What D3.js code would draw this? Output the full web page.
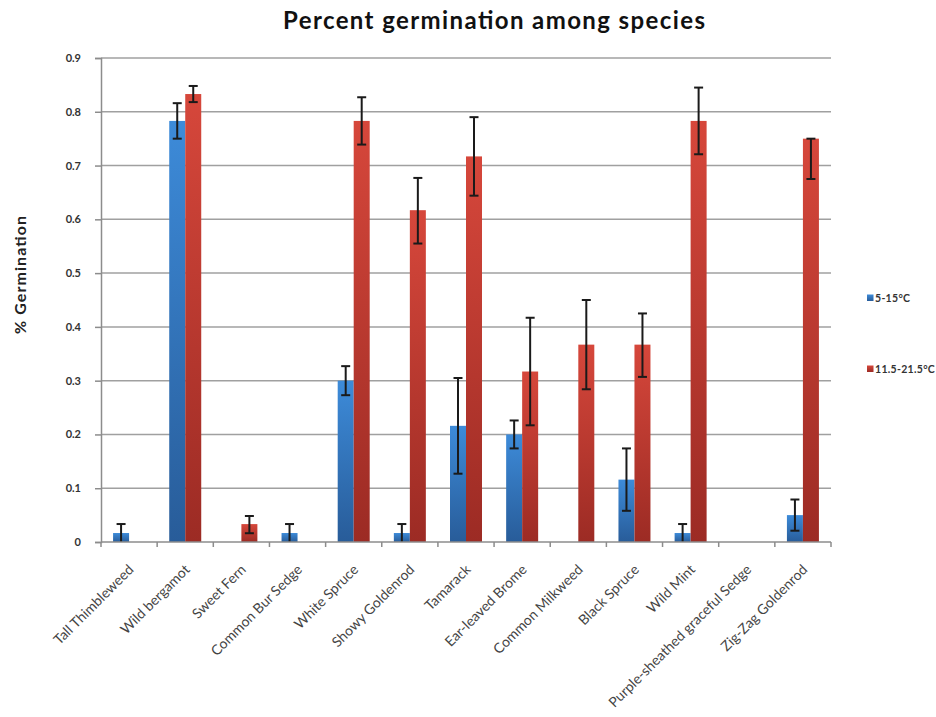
<!DOCTYPE html>
<html>
<head>
<meta charset="utf-8">
<script src="https://cdn.jsdelivr.net/npm/d3@7"></script>
<style>
  html, body { margin: 0; padding: 0; background: #fff; }
  svg { display: block; }
</style>
</head>
<body>
<svg id="chart" width="936" height="717"></svg>
<script>
const categories = ["Tall Thimbleweed", "Wild bergamot", "Sweet Fern", "Common Bur Sedge", "White Spruce", "Showy Goldenrod", "Tamarack", "Ear-leaved Brome", "Common Milkweed", "Black Spruce", "Wild Mint", "Purple-sheathed graceful Sedge", "Zig-Zag Goldenrod"];
const seriesNames = ["5-15°C", "11.5-21.5°C"];
const coolValues = [0.0167, 0.783, 0, 0.0167, 0.300, 0.0167, 0.216, 0.200, 0, 0.116, 0.0167, 0, 0.050];
const coolErrUp =  [0.0167, 0.033, 0, 0.0167, 0.027, 0.0167, 0.089, 0.026, 0, 0.058, 0.0167, 0, 0.029];
const coolErrDown = [0.0167, 0.033, 0, 0.0167, 0.027, 0.0167, 0.089, 0.026, 0, 0.058, 0.0167, 0, 0.029];
const warmValues = [0, 0.833, 0.0333, 0, 0.783, 0.617, 0.717, 0.317, 0.367, 0.367, 0.783, 0, 0.750];
const warmErrUp =  [0, 0.015, 0.015, 0, 0.044, 0.060, 0.073, 0.100, 0.083, 0.058, 0.062, 0, 0];
const warmErrDown = [0, 0.015, 0.017, 0, 0.044, 0.062, 0.073, 0.100, 0.083, 0.060, 0.062, 0, 0.075];
const yTicks = [0, 0.1, 0.2, 0.3, 0.4, 0.5, 0.6, 0.7, 0.8, 0.9];

const series = [
  { name: seriesNames[0], values: coolValues, up: coolErrUp, down: coolErrDown, grad: "gBlue" },
  { name: seriesNames[1], values: warmValues, up: warmErrUp, down: warmErrDown, grad: "gRed" }
];

const svg = d3.select("#chart");
const FONT = "Lato, 'Open Sans', sans-serif";
const plotLeft = 101, plotRight = 831, plotTop = 58, plotBottom = 542;

const defs = svg.append("defs");
function grad(id, c1, c2) {
  const g = defs.append("linearGradient").attr("id", id).attr("x1", 0).attr("y1", 0).attr("x2", 0).attr("y2", 1);
  g.append("stop").attr("offset", "0%").attr("stop-color", c1);
  g.append("stop").attr("offset", "100%").attr("stop-color", c2);
}
grad("gBlue", "#3d8bd9", "#285c99");
grad("gRed", "#d6473b", "#9c2b24");

const x = d3.scaleBand().domain(categories).range([plotLeft, plotRight]).padding(0);
const xs = d3.scaleBand().domain(seriesNames).range([0, x.bandwidth()]).paddingInner(0).paddingOuter(0.755);
const y = d3.scaleLinear().domain([0, 0.9]).range([plotBottom, plotTop]);

// gridlines
svg.append("g").selectAll("line").data(yTicks.filter(d => d > 0)).join("line")
  .attr("x1", plotLeft).attr("x2", plotRight)
  .attr("y1", d => y(d)).attr("y2", d => y(d))
  .attr("stroke", "#a0a0a0").attr("stroke-width", 1.5);

// y axis
const yAxis = d3.axisLeft(y).tickValues(yTicks).tickSize(6).tickPadding(14).tickFormat(d => d === 0 ? "0" : d3.format(".1f")(d));
const gy = svg.append("g").attr("transform", `translate(${plotLeft},0)`).call(yAxis);
gy.select(".domain").attr("stroke", "#8c8c8c").attr("stroke-width", 1.5);
gy.selectAll(".tick line").attr("stroke", "#8c8c8c").attr("stroke-width", 1.5);
gy.selectAll(".tick text").attr("font-family", FONT).attr("font-size", 11).attr("font-weight", "bold").attr("fill", "#333");

// bars
series.forEach(s => {
  svg.append("g").selectAll("rect").data(categories).join("rect")
    .attr("x", (c) => x(c) + xs(s.name))
    .attr("width", xs.bandwidth())
    .attr("y", (c, i) => y(s.values[i]))
    .attr("height", (c, i) => y(0) - y(s.values[i]))
    .attr("fill", `url(#${s.grad})`);
});

// error bars
series.forEach(s => {
  const g = svg.append("g");
  categories.forEach((c, i) => {
    const v = s.values[i];
    if (v === 0 && s.up[i] === 0) return;
    const cx = x(c) + xs(s.name) + xs.bandwidth() / 2;
    const y1 = y(v + s.up[i]);
    const y2 = y(Math.max(0, v - s.down[i]));
    g.append("line").attr("x1", cx).attr("x2", cx).attr("y1", y1).attr("y2", y2)
      .attr("stroke", "#1a1a1a").attr("stroke-width", 2);
    [y1, y2].forEach(yy => {
      if (yy >= y(0) - 0.5) return;
      g.append("line").attr("x1", cx - 4.5).attr("x2", cx + 4.5).attr("y1", yy).attr("y2", yy)
        .attr("stroke", "#1a1a1a").attr("stroke-width", 2);
    });
  });
});

// x axis
const xAxisLine = svg.append("g");
xAxisLine.append("line").attr("x1", plotLeft).attr("x2", plotRight).attr("y1", plotBottom).attr("y2", plotBottom)
  .attr("stroke", "#8c8c8c").attr("stroke-width", 1.5);
const boundaries = categories.map(c => x(c)).concat([plotRight]);
xAxisLine.selectAll("line.tk").data(boundaries).join("line").attr("class", "tk")
  .attr("x1", d => d).attr("x2", d => d).attr("y1", plotBottom).attr("y2", plotBottom + 5)
  .attr("stroke", "#8c8c8c").attr("stroke-width", 1.5);

svg.append("g").selectAll("text").data(categories).join("text")
  .attr("transform", c => `translate(${x(c) + x.bandwidth() / 2 + 2},${plotBottom + 25}) rotate(-45)`)
  .attr("text-anchor", "end")
  .attr("dy", "0.35em")
  .attr("font-family", FONT).attr("font-size", 14).attr("fill", "#444")
  .text(c => c);

// title
svg.append("text").attr("x", 494).attr("y", 29).attr("text-anchor", "middle")
  .attr("font-family", FONT).attr("font-size", 24).attr("font-weight", "bold").attr("fill", "#111")
  .attr("textLength", 422).attr("lengthAdjust", "spacing")
  .text("Percent germination among species");

// y title
svg.append("text").attr("transform", "translate(26,275) rotate(-90)").attr("text-anchor", "middle")
  .attr("font-family", FONT).attr("font-size", 16).attr("font-weight", "bold").attr("fill", "#222")
  .attr("textLength", 118).attr("lengthAdjust", "spacing")
  .text("% Germination");

// legend
const legY = [298, 369];
series.forEach((s, i) => {
  svg.append("rect").attr("x", 867).attr("y", legY[i] - 3.5).attr("width", 6.5).attr("height", 6.5)
    .attr("fill", `url(#${s.grad})`);
  svg.append("text").attr("x", 875).attr("y", legY[i]).attr("dy", "0.35em")
    .attr("font-family", FONT).attr("font-size", 10.5).attr("font-weight", "bold").attr("fill", "#333")
    .attr("letter-spacing", 0.3)
    .text(s.name);
});
</script>
</body>
</html>
